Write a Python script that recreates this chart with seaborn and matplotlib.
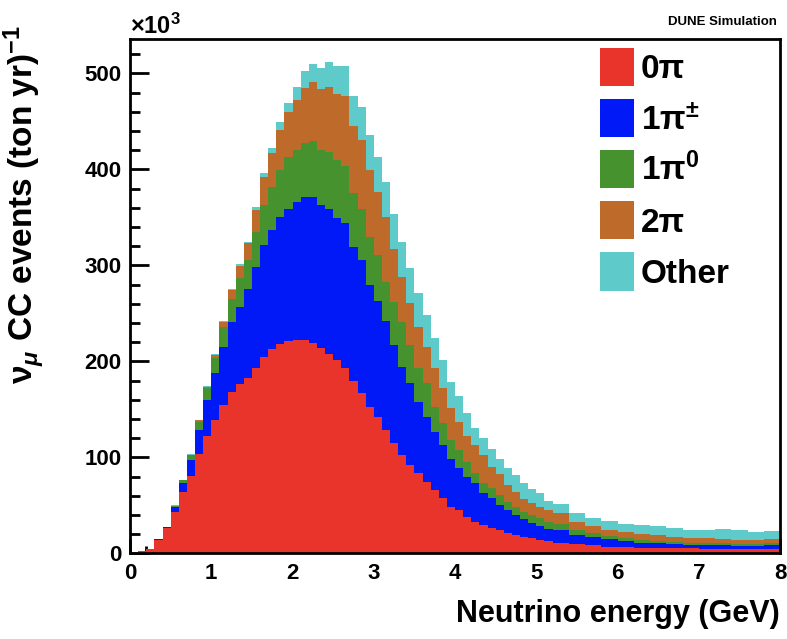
import numpy as np
import pandas as pd
import matplotlib
matplotlib.use("Agg")
import matplotlib.pyplot as plt
from matplotlib.patches import Patch
from matplotlib.ticker import MultipleLocator
import seaborn as sns

# bin edges in GeV: 0.1 GeV wide up to 5.2, then 0.2 GeV wide up to 8
fine_edges = [round(0.1 * i, 1) for i in range(53)]
wide_edges = [5.4, 5.6, 5.8, 6.0, 6.2, 6.4, 6.6, 6.8, 7.0, 7.2, 7.4, 7.6, 7.8, 8.0]
bin_edges = fine_edges + wide_edges

# events per bin, x10^3 (ton yr)^-1
zero_pi = [1.5, 2.5, 5, 14, 26, 43, 63.5, 81, 103, 122,
           139, 154.5, 168, 176, 183, 193, 205, 213, 218.5, 221,
           222, 222, 219.5, 214, 208, 201, 193, 180, 167.4, 152.8,
           142.4, 128.5, 114.6, 102.4, 92, 83.3, 74.7, 66, 57.3, 48.6,
           45, 38, 33, 29.5, 26.7, 24.3, 20.8, 19, 17.4, 15.5,
           14, 13,
           11, 9.7, 8.5, 7, 6.3, 6, 5.5, 5.3, 5.2, 5, 4.5, 4.5, 4.5, 4.5]
one_pi_ch = [0, 0, 0, 0.5, 1, 5.5, 10.1, 16, 25, 38,
             48.5, 60.5, 73, 81, 92, 105, 116, 124, 131.5, 138,
             144, 149.5, 151.5, 149, 151, 148, 151, 139, 138.2, 127.2,
             120.6, 113.5, 102.4, 91.6, 85, 74.7, 67.7, 60.7, 55.5, 49.4,
             43.5, 42, 40, 33, 30.6, 26, 24.2, 21, 18.1, 16.5,
             14, 12,
             13, 9.3, 8.9, 7.6, 6.5, 5, 4.9, 4.4, 3.5, 3.7, 3.8, 3.5, 3.5, 3.8]
one_pi_zero = [0, 0, 0, 0, 0.3, 1, 2.4, 5, 9, 12,
               16.5, 21, 24, 30, 30.5, 37, 42, 45, 49, 54,
               54, 56.5, 58.5, 57, 59.5, 61, 59.5, 56, 53.4, 50,
               47.8, 41, 45, 47, 40, 34.7, 34.6, 26.1, 22.6, 20,
               19.1, 15.5, 10.3, 10.5, 10.4, 10.5, 8.8, 8.6, 7.9, 8,
               9, 8,
               7, 5, 3.4, 3.4, 2.8, 2.9, 2.4, 2.5, 2.3, 1.7, 2.1, 1.7, 1.4, 2.1]
two_pi = [0, 0, 0, 0, 0, 0.3, 0.5, 0.7, 1.5, 1.5,
          3, 5, 9, 12.7, 18, 23, 29, 34.7, 42, 47,
          52, 57, 61.5, 64, 67.5, 69, 72.5, 70.5, 71.6, 69,
          65.9, 67, 54.7, 47, 43.4, 43.3, 38, 39.9, 36.5, 33,
          29.4, 26.5, 29.5, 29.4, 22.3, 22.2, 17.2, 15.4, 13.6, 12,
          11, 12,
          10.7, 9, 7.2, 6.5, 6.4, 6.6, 6.2, 5.2, 5, 5.2, 4.6, 4.3, 4.6, 4.1]
other = [0, 0, 0, 0, 0, 0.2, 0.3, 0.3, 0.5, 0.5,
         0.5, 1, 1, 1.8, 1.4, 3, 4, 5.9, 8, 9.4,
         13.4, 17.4, 19, 22, 26, 29, 32, 31.5, 34.4, 36.8,
         36.3, 37.3, 37.3, 36.7, 36.6, 35, 33, 32, 29.5, 27,
         27, 24.5, 18.2, 17.6, 19, 15, 17.5, 17.6, 16, 15,
         15, 10,
         9.3, 9, 9, 9.5, 9, 9, 9, 8.6, 8.5, 8.9, 10, 10, 8.5, 9]

labels = ["0\u03c0", "1\u03c0$^{\u00b1}$", "1\u03c0$^{0}$", "2\u03c0", "Other"]
colors = ["#e8342a", "#0019f6", "#45922e", "#bd6a2a", "#5ecbca"]

bin_centers = [(lo + hi) / 2 for lo, hi in zip(bin_edges[:-1], bin_edges[1:])]
frames = []
for lab, vals in zip(labels, [zero_pi, one_pi_ch, one_pi_zero, two_pi, other]):
    frames.append(pd.DataFrame({"energy": bin_centers, "events": vals, "mode": lab}))
df = pd.concat(frames, ignore_index=True)

sns.set_style("ticks")
plt.rcParams["font.family"] = ["Liberation Sans", "DejaVu Sans"]
plt.rcParams["font.weight"] = "bold"
plt.rcParams["mathtext.fontset"] = "custom"
plt.rcParams["mathtext.rm"] = "Liberation Sans:bold"
plt.rcParams["mathtext.it"] = "Liberation Sans:italic:bold"
plt.rcParams["mathtext.bf"] = "Liberation Sans:bold"
for key in ["text.color", "axes.labelcolor", "xtick.color", "ytick.color",
            "axes.edgecolor"]:
    plt.rcParams[key] = "black"

fig = plt.figure(figsize=(7.87, 6.39), dpi=100)
ax = fig.add_axes([0.1652, 0.1341, 0.826, 0.805])

palette = dict(zip(labels, colors))
# seaborn puts the first hue level on top of the stack
sns.histplot(data=df, x="energy", weights="events", hue="mode",
             hue_order=labels[::-1], palette=palette, bins=bin_edges,
             multiple="stack", element="step", fill=True, alpha=1,
             linewidth=0, legend=False, ax=ax)

ax.set_xlim(0, 8)
ax.set_ylim(0, 536)
ax.xaxis.set_major_locator(MultipleLocator(1))
ax.xaxis.set_minor_locator(MultipleLocator(0.2))
ax.yaxis.set_major_locator(MultipleLocator(100))
ax.yaxis.set_minor_locator(MultipleLocator(20))
ax.tick_params(axis="y", which="major", direction="in", length=14, width=2,
               labelsize=16, pad=6)
ax.tick_params(axis="y", which="minor", direction="in", length=7, width=2)
ax.tick_params(axis="x", which="major", direction="in", length=10, width=2,
               labelsize=16, pad=7)
ax.tick_params(axis="x", which="minor", direction="in", length=5, width=2)
for side in ["left", "bottom", "top", "right"]:
    ax.spines[side].set_visible(True)
    ax.spines[side].set_linewidth(2)
    ax.spines[side].set_color("black")

ax.set_xlabel("Neutrino energy (GeV)", fontsize=22, fontweight="bold")
ax.xaxis.set_label_coords(1.0, -0.088)
ax.xaxis.label.set_horizontalalignment("right")
ax.set_ylabel("\u03bd$_{\u03bc}$ CC events (ton yr)$^{-1}$", fontsize=24,
              fontweight="bold", loc="top")
ax.yaxis.set_label_coords(-0.128, 1.027)

fig.text(130 / 787, 1 - 34 / 639, "\u00d710$^{3}$", fontsize=17,
         fontweight="bold", ha="left", va="baseline")
fig.text(777 / 787, 1 - 22 / 639, "DUNE Simulation", fontsize=9.5,
         fontweight="bold", ha="right", va="center")

handles = [Patch(facecolor=c, edgecolor="none") for c in colors]
ax.legend(handles, labels, loc="upper left", bbox_to_anchor=(0.723, 0.982),
          frameon=False, fontsize=24, handlelength=1.02, handleheight=1.38,
          labelspacing=0.39, handletextpad=0.2, borderpad=0, borderaxespad=0)

fig.savefig("out.png", dpi=100)
